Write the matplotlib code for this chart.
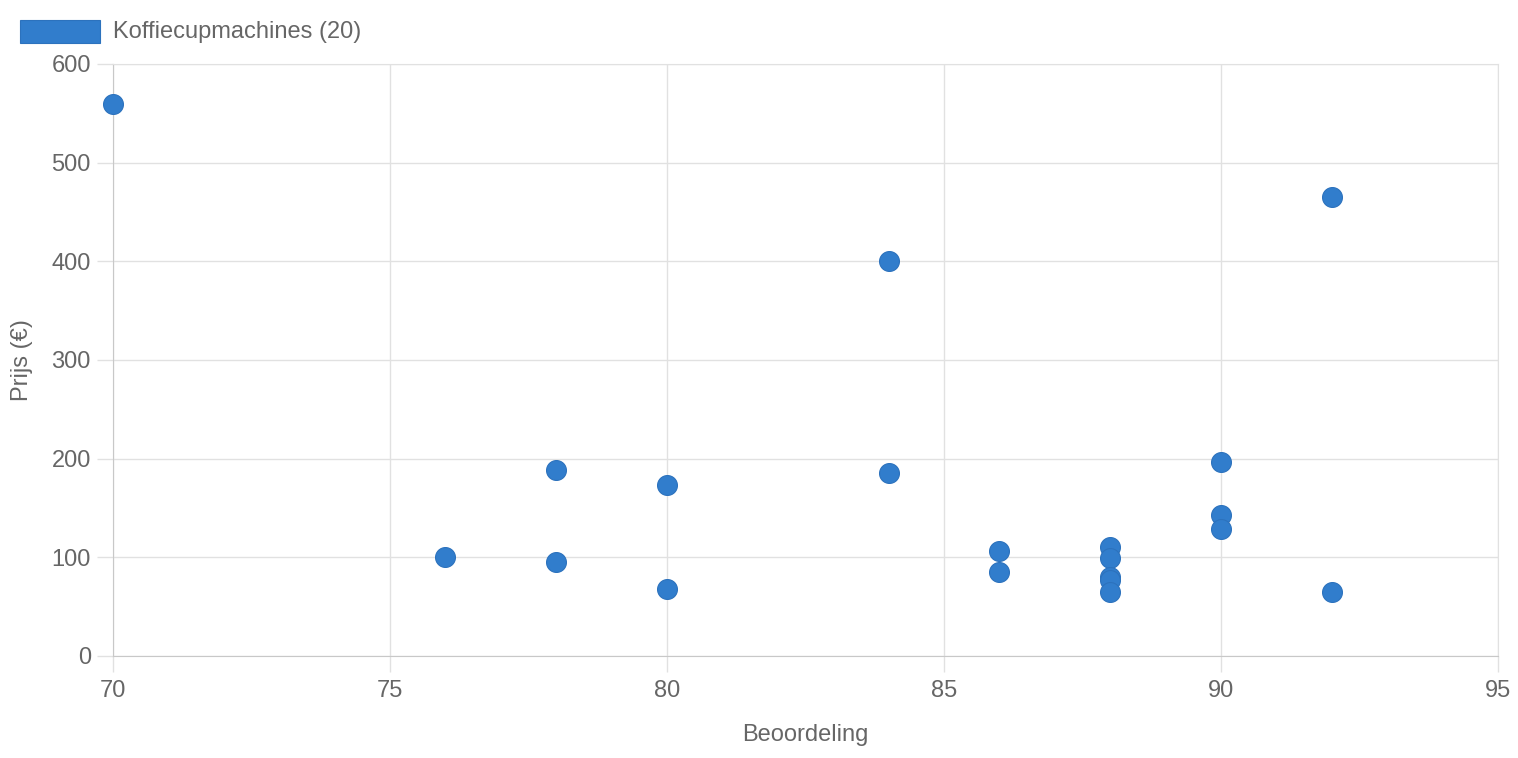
import matplotlib
matplotlib.use("Agg")
import matplotlib.pyplot as plt
from matplotlib.patches import Rectangle

rating = [70, 76, 78, 78, 80, 80, 84, 84, 86, 86, 88, 88, 88, 88, 88, 90, 90, 90, 92, 92]
price = [559, 100, 189, 95, 173, 68, 400, 185, 106, 85, 110, 99, 80, 77, 65, 197, 143, 129, 465, 65]
series_label = "Koffiecupmachines (20)"
x_ticks = [70, 75, 80, 85, 90, 95]
y_ticks = [0, 100, 200, 300, 400, 500, 600]

plt.rcParams['font.family'] = ['Liberation Sans', 'DejaVu Sans']
text_col = '#666666'
grid_col = '#e1e1e1'
pt_col = '#317dcc'
fs = 17

fig = plt.figure(figsize=(15.18, 7.58), dpi=100)
ax = fig.add_axes([113/1518, 102/758, (1498-113)/1518, (656-64)/758])
ax.scatter(rating, price, s=205, color=pt_col, edgecolors='#2c72bd', linewidths=0.8, zorder=3, clip_on=False)
ax.set_xlim(70, 95)
ax.set_ylim(0, 600)
ax.set_xticks(x_ticks)
ax.set_yticks(y_ticks)
ax.grid(True, color=grid_col, linewidth=1)
ax.set_axisbelow(True)
for s in ['top', 'right']:
    ax.spines[s].set_color(grid_col)
for s in ['left', 'bottom']:
    ax.spines[s].set_color('#c8c8c8')
ax.tick_params(axis='both', colors=grid_col, labelcolor=text_col, labelsize=fs, length=11.5, width=1)
ax.tick_params(axis='x', pad=6)
ax.tick_params(axis='y', pad=4.5)
ax.set_xlabel("Beoordeling", color=text_col, fontsize=fs)
ax.set_ylabel("Prijs (€)", color=text_col, fontsize=fs)
ax.xaxis.set_label_coords(0.5, (656-735)/592)
ax.xaxis.label.set_va('center')
ax.yaxis.set_label_coords((22-113)/1385, 0.5)
ax.yaxis.label.set_va('center')

# legend
fig.patches.append(Rectangle((20/1518, (758-43)/758), 80/1518, 23/758, transform=fig.transFigure,
                             facecolor=pt_col, edgecolor='#2c72bd', linewidth=0.8))
fig.text(113/1518, (758-32)/758, series_label, color=text_col, fontsize=fs, va='center', ha='left')

fig.savefig("out.png", dpi=100)
